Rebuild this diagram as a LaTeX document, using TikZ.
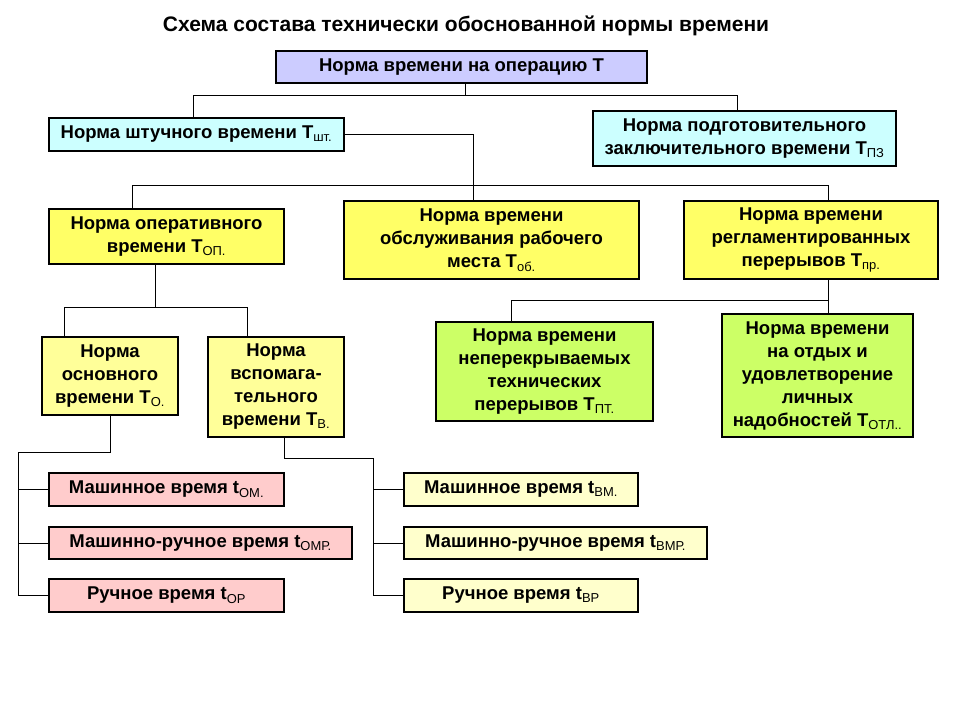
\documentclass[tikz,border=0pt]{standalone}
\usepackage{fontspec}
\setmainfont{Liberation Sans}
\usetikzlibrary{positioning}
\definecolor{lav}{RGB}{204,204,255}
\definecolor{cyn}{RGB}{204,255,255}
\definecolor{yel}{RGB}{255,255,102}
\definecolor{lyel}{RGB}{255,255,153}
\definecolor{grn}{RGB}{204,255,102}
\definecolor{pnk}{RGB}{255,204,204}
\definecolor{crm}{RGB}{255,255,204}
\newcommand{\nsub}[1]{\textsubscript{\mdseries #1}}
\tikzset{
  blk/.style={draw, line width=1.2pt, align=center, inner sep=1pt,
    font=\bfseries\fontsize{18.5}{23}\selectfont},
  sz/.style 2 args={minimum width=#1, minimum height=#2},
  link/.style={line width=1pt}
}
\begin{document}
\begin{tikzpicture}[x=1pt, y=-1pt]
            \useasboundingbox (0,0) rectangle (960,720);
            \node (title) at (466,26) {\bfseries\fontsize{21}{24}\selectfont Схема состава технически обоснованной нормы времени};
            % first levels
            \node[blk, fill=lav, sz={371pt}{32pt}] (T) at (461.5,67) {Норма времени на операцию Т};
            \node[blk, fill=cyn, sz={295pt}{33pt}] (sht) at (196.5,134.5) {Норма штучного времени Т\nsub{шт.}};
            \node[blk, fill=cyn, sz={303pt}{55pt}] (pz) at (744.5,138.5) {Норма подготовительного\\заключительного времени Т\nsub{ПЗ}};
            \node[blk, fill=yel, sz={235pt}{55pt}] (op) at (166.5,236.5) {Норма оперативного\\времени Т\nsub{ОП.}};
            \node[blk, fill=yel, sz={295pt}{78pt}] (ob) at (491.5,240) {Норма времени\\обслуживания рабочего\\места Т\nsub{об.}};
            \node[blk, fill=yel, sz={254pt}{78pt}] (pr) at (811,240) {Норма времени\\регламентированных\\перерывов Т\nsub{пр.}};
            \node[blk, fill=lyel, sz={136pt}{78pt}] (o) at (110,376) {Норма\\основного\\времени Т\nsub{О.}};
            \node[blk, fill=lyel, sz={136pt}{100pt}] (v) at (276,387) {Норма\\вспомага-\\тельного\\времени Т\nsub{В.}};
            \node[blk, fill=grn, sz={217pt}{99pt}] (pt) at (544.5,371.5) {Норма времени\\неперекрываемых\\технических\\перерывов Т\nsub{ПТ.}};
            \node[blk, fill=grn, sz={191pt}{123pt}] (otl) at (817.5,375.5) {Норма времени\\на отдых и\\удовлетворение\\личных\\надобностей Т\nsub{ОТЛ..}};
            % lower rows
            \node[blk, fill=pnk, sz={235pt}{33pt}] (om) at (166.5,489.5) {Машинное время t\nsub{ОМ.}};
            \node[blk, fill=pnk, sz={303pt}{32pt}] (omr) at (200.5,543) {Машинно-ручное время t\nsub{ОМР.}};
            \node[blk, fill=pnk, sz={235pt}{33pt}] (or) at (166.5,595.5) {Ручное время t\nsub{ОР}};
            \node[blk, fill=crm, sz={234pt}{33pt}] (vm) at (521,489.5) {Машинное время t\nsub{ВМ.}};
            \node[blk, fill=crm, sz={303pt}{32pt}] (vmr) at (555.5,543) {Машинно-ручное время t\nsub{ВМР.}};
            \node[blk, fill=crm, sz={234pt}{33pt}] (vr) at (521,595.5) {Ручное время t\nsub{ВР}};
            % connectors
            \draw[link] ([xshift=3.5pt]T.south) -- ++(0,12) coordinate (t1);
            \draw[link] ([xshift=-3.5pt]sht.north) |- (t1) -| ([xshift=-7.5pt]pz.north);
            \draw[link] (sht.east) -| ([xshift=-18.5pt]ob.north);
            \draw[link] ([xshift=-34.5pt]op.north) -- ++(0,-23) -| ([xshift=17pt]pr.north);
            \draw[link] ([xshift=-11.5pt]op.south) -- ++(0,43) coordinate (t2);
            \draw[link] ([xshift=-46pt]o.north) |- (t2) -| ([xshift=-29pt]v.north);
            \draw[link] ([xshift=17pt]pr.south) -- ([xshift=10.5pt]otl.north);
            \draw[link] ([xshift=-33.5pt]pt.north) |- ([xshift=17pt]pr.south |- 0,300);
            \draw[link] (o.south) -- ++(0,37) -| ([xshift=-30pt]or.west) -- (or.west);
            \draw[link] ([xshift=-30pt]om.west) -- (om.west);
            \draw[link] ([xshift=-30pt]omr.west) -- (omr.west);
            \draw[link] ([xshift=8pt]v.south) -- ++(0,21) -| ([xshift=-30pt]vr.west) -- (vr.west);
            \draw[link] ([xshift=-30pt]vm.west) -- (vm.west);
            \draw[link] ([xshift=-30pt]vmr.west) -- (vmr.west);
        \end{tikzpicture}
\end{document}
